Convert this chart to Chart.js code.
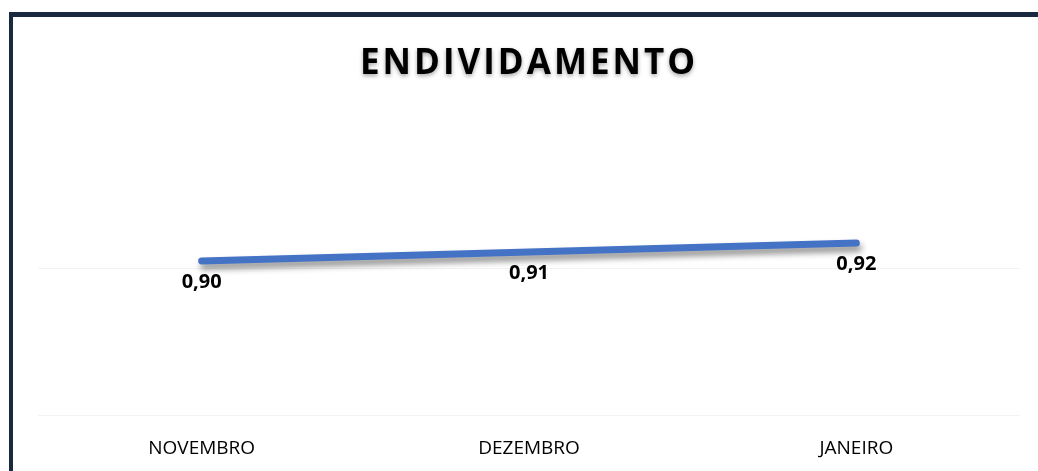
<!DOCTYPE html>
<html>
<head>
<meta charset="utf-8">
<script src="https://cdn.jsdelivr.net/npm/chart.js@4.4.1/dist/chart.umd.min.js"></script>
<style>
  body { margin: 0; background: #fff; overflow: hidden; }
  .frame {
    position: absolute; left: 9px; top: 12px; width: 1100px; height: 520px;
    border-top: 5px solid #1b2940; border-left: 4px solid #1b2940;
  }
  #chart { position: absolute; left: 0; top: 0; }
</style>
</head>
<body>
<div class="frame"></div>
<canvas id="chart" width="1038" height="471"></canvas>
<script>
const title = 'ENDIVIDAMENTO';
const months = ['NOVEMBRO', 'DEZEMBRO', 'JANEIRO'];
const endividamento = [0.90, 0.91, 0.92];
const yMin = 0.7289;
const yMax = 1.0556;
const yGrid = [0.7289, 0.8922];

const fmt = v => v.toFixed(2).replace('.', ',');

// sombra por baixo da linha
const lineShadow = {
  id: 'lineShadow',
  beforeDatasetsDraw(chart) {
    const ctx = chart.ctx;
    ctx.save();
    ctx.shadowColor = 'rgba(0,0,0,0.45)';
    ctx.shadowBlur = 6;
    ctx.shadowOffsetX = 2;
    ctx.shadowOffsetY = 5;
  },
  afterDatasetsDraw(chart) {
    chart.ctx.restore();
  }
};

// titulo e rotulos de valor
const textPlugin = {
  id: 'textPlugin',
  afterDraw(chart) {
    const ctx = chart.ctx;
    ctx.save();
    ctx.textAlign = 'center';
    ctx.textBaseline = 'middle';
    ctx.fillStyle = '#000';

    ctx.font = 'bold 35px "Open Sans"';
    ctx.letterSpacing = '3px';
    ctx.shadowColor = 'rgba(0,0,0,0.35)';
    ctx.shadowBlur = 4;
    ctx.shadowOffsetY = 2;
    ctx.fillText(title, 529, 64);

    ctx.letterSpacing = '0px';
    ctx.shadowColor = 'transparent';
    ctx.font = 'bold 20px "Open Sans"';
    const meta = chart.getDatasetMeta(0);
    meta.data.forEach((pt, i) => {
      ctx.fillText(fmt(endividamento[i]), pt.x, pt.y + 21);
    });
    ctx.restore();
  }
};

new Chart(document.getElementById('chart'), {
  type: 'line',
  data: {
    labels: months,
    datasets: [{
      label: title,
      data: endividamento,
      borderColor: '#4472c4',
      borderWidth: 7,
      borderCapStyle: 'round',
      pointRadius: 0,
      fill: false,
      tension: 0
    }]
  },
  options: {
    responsive: false,
    animation: false,
    layout: { padding: { left: 38, right: 18, top: 121, bottom: 0 } },
    plugins: {
      legend: { display: false },
      tooltip: { enabled: false }
    },
    scales: {
      x: {
        offset: true,
        grid: { display: false },
        border: { display: false },
        afterFit: axis => { axis.height = 56; },
        ticks: {
          color: '#000',
          padding: 14,
          maxRotation: 0,
          font: { family: '"Open Sans"', size: 19 }
        }
      },
      y: {
        min: yMin,
        max: yMax,
        afterFit: axis => { axis.width = 0; },
        afterBuildTicks: axis => { axis.ticks = yGrid.map(v => ({ value: v })); },
        ticks: { display: false },
        grid: { color: '#f3f3f3', drawTicks: false },
        border: { display: false }
      }
    }
  },
  plugins: [lineShadow, textPlugin]
});
</script>
</body>
</html>
